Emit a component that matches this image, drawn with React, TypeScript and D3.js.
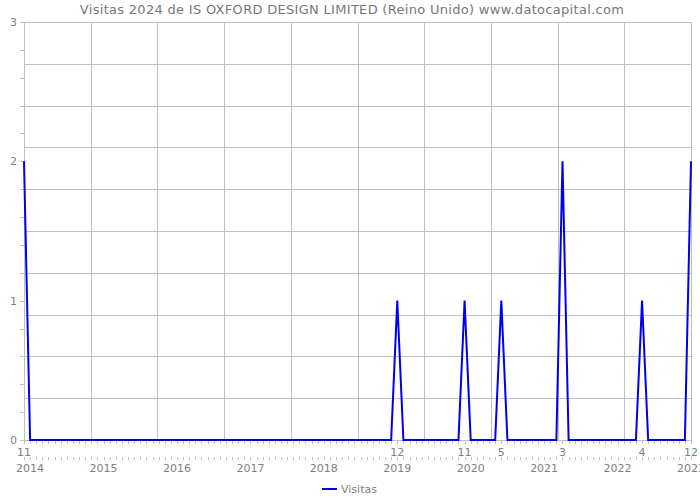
import React from "react";
import * as d3 from "d3";

const title = "Visitas 2024 de IS OXFORD DESIGN LIMITED (Reino Unido) www.datocapital.com";
const seriesName = "Visitas";
const startMonth = "2014-11";
const endMonth = "2023-12";
// monthly visits, Nov 2014 .. Dec 2023
const values: number[] = [
  2, 0, // 2014: Nov, Dec
  0, 0, 0, 0, 0, 0, 0, 0, 0, 0, 0, 0, // 2015
  0, 0, 0, 0, 0, 0, 0, 0, 0, 0, 0, 0, // 2016
  0, 0, 0, 0, 0, 0, 0, 0, 0, 0, 0, 0, // 2017
  0, 0, 0, 0, 0, 0, 0, 0, 0, 0, 0, 0, // 2018
  0, 0, 0, 0, 0, 0, 0, 0, 0, 0, 0, 1, // 2019
  0, 0, 0, 0, 0, 0, 0, 0, 0, 0, 1, 0, // 2020
  0, 0, 0, 0, 1, 0, 0, 0, 0, 0, 0, 0, // 2021
  0, 0, 2, 0, 0, 0, 0, 0, 0, 0, 0, 0, // 2022
  0, 0, 0, 1, 0, 0, 0, 0, 0, 0, 0, 2, // 2023
];
const yTicks = [0, 1, 2, 3];

const W = 700, H = 500;
const left = 24, right = 691, top = 22, bottom = 440;
const font = "'DejaVu Sans', Verdana, sans-serif";
const textColor = "#808080";
const gridColor = "#c0c0c0";

export default function App() {
  const parse = d3.timeParse("%Y-%m");
  const months = d3.timeMonth.range(parse(startMonth)!, d3.timeMonth.offset(parse(endMonth)!, 1));
  const keys = months.map((d) => d3.timeFormat("%Y-%m")(d));
  const x = d3.scalePoint<string>().domain(keys).range([left, right]).padding(0);
  const y = d3.scaleLinear().domain([0, 3]).range([bottom, top]);
  const data = keys.map((k, i) => ({ k, m: months[i], v: values[i] }));
  const line = d3.line<typeof data[0]>().x((d) => x(d.k)!).y((d) => y(d.v));

  const vGrid = d3.range(11).map((i) => left + ((right - left) * i) / 10);
  const hGrid = d3.range(11).map((i) => bottom - ((bottom - top) * i) / 10);
  const minorY = d3.range(0, 3.0001, 0.2);

  return (
    <svg width={W} height={H} style={{ position: "absolute", left: 0, top: 0, background: "#fff" }}>
      <text x={W / 2 + 2} y={14} textAnchor="middle" fontFamily={font} fontSize={13} letterSpacing={0.3} fill="#777">
        {title}
      </text>
      {vGrid.map((gx, i) => (
        <line key={"v" + i} x1={Math.round(gx) + 0.5} x2={Math.round(gx) + 0.5} y1={top} y2={bottom} stroke={gridColor} />
      ))}
      {hGrid.map((gy, i) => (
        <line key={"h" + i} x1={left} x2={right} y1={Math.round(gy) + 0.5} y2={Math.round(gy) + 0.5} stroke={gridColor} />
      ))}
      {minorY.map((v, i) => (
        <line key={"my" + i} x1={left - 4} x2={left} y1={Math.round(y(v)) + 0.5} y2={Math.round(y(v)) + 0.5} stroke={gridColor} />
      ))}
      {yTicks.map((v) => (
        <text key={"yl" + v} x={17} y={y(v) + 4} textAnchor="end" fontFamily={font} fontSize={11} fill={textColor}>
          {v}
        </text>
      ))}
      {data.map((d, i) => (
        <g key={"xt" + i}>
          <line x1={Math.round(x(d.k)!) + 0.5} x2={Math.round(x(d.k)!) + 0.5} y1={bottom} y2={bottom + 4} stroke={gridColor} />
          <line x1={Math.round(x(d.k)!) + 0.5} x2={Math.round(x(d.k)!) + 0.5} y1={bottom + 17} y2={bottom + 20} stroke={gridColor} />
        </g>
      ))}
      {data.filter((d) => d.v > 0).map((d) => (
        <text key={"ml" + d.k} x={x(d.k)!} y={bottom + 16} textAnchor="middle" fontFamily={font} fontSize={11} fill={textColor}>
          {d.m.getMonth() + 1}
        </text>
      ))}
      {data.filter((d) => d.m.getMonth() === 11).map((d) => (
        <text key={"yr" + d.k} x={x(d.k)!} y={bottom + 32} textAnchor="middle" fontFamily={font} fontSize={11} fill={textColor}>
          {d.m.getFullYear()}
        </text>
      ))}
      <path d={line(data)!} fill="none" stroke="#0000ee" strokeWidth={2} strokeLinejoin="miter" />
      <line x1={322} x2={337} y1={489} y2={489} stroke="#0000ee" strokeWidth={2} />
      <text x={341} y={493} fontFamily={font} fontSize={11} fill={textColor}>
        {seriesName}
      </text>
    </svg>
  );
}
